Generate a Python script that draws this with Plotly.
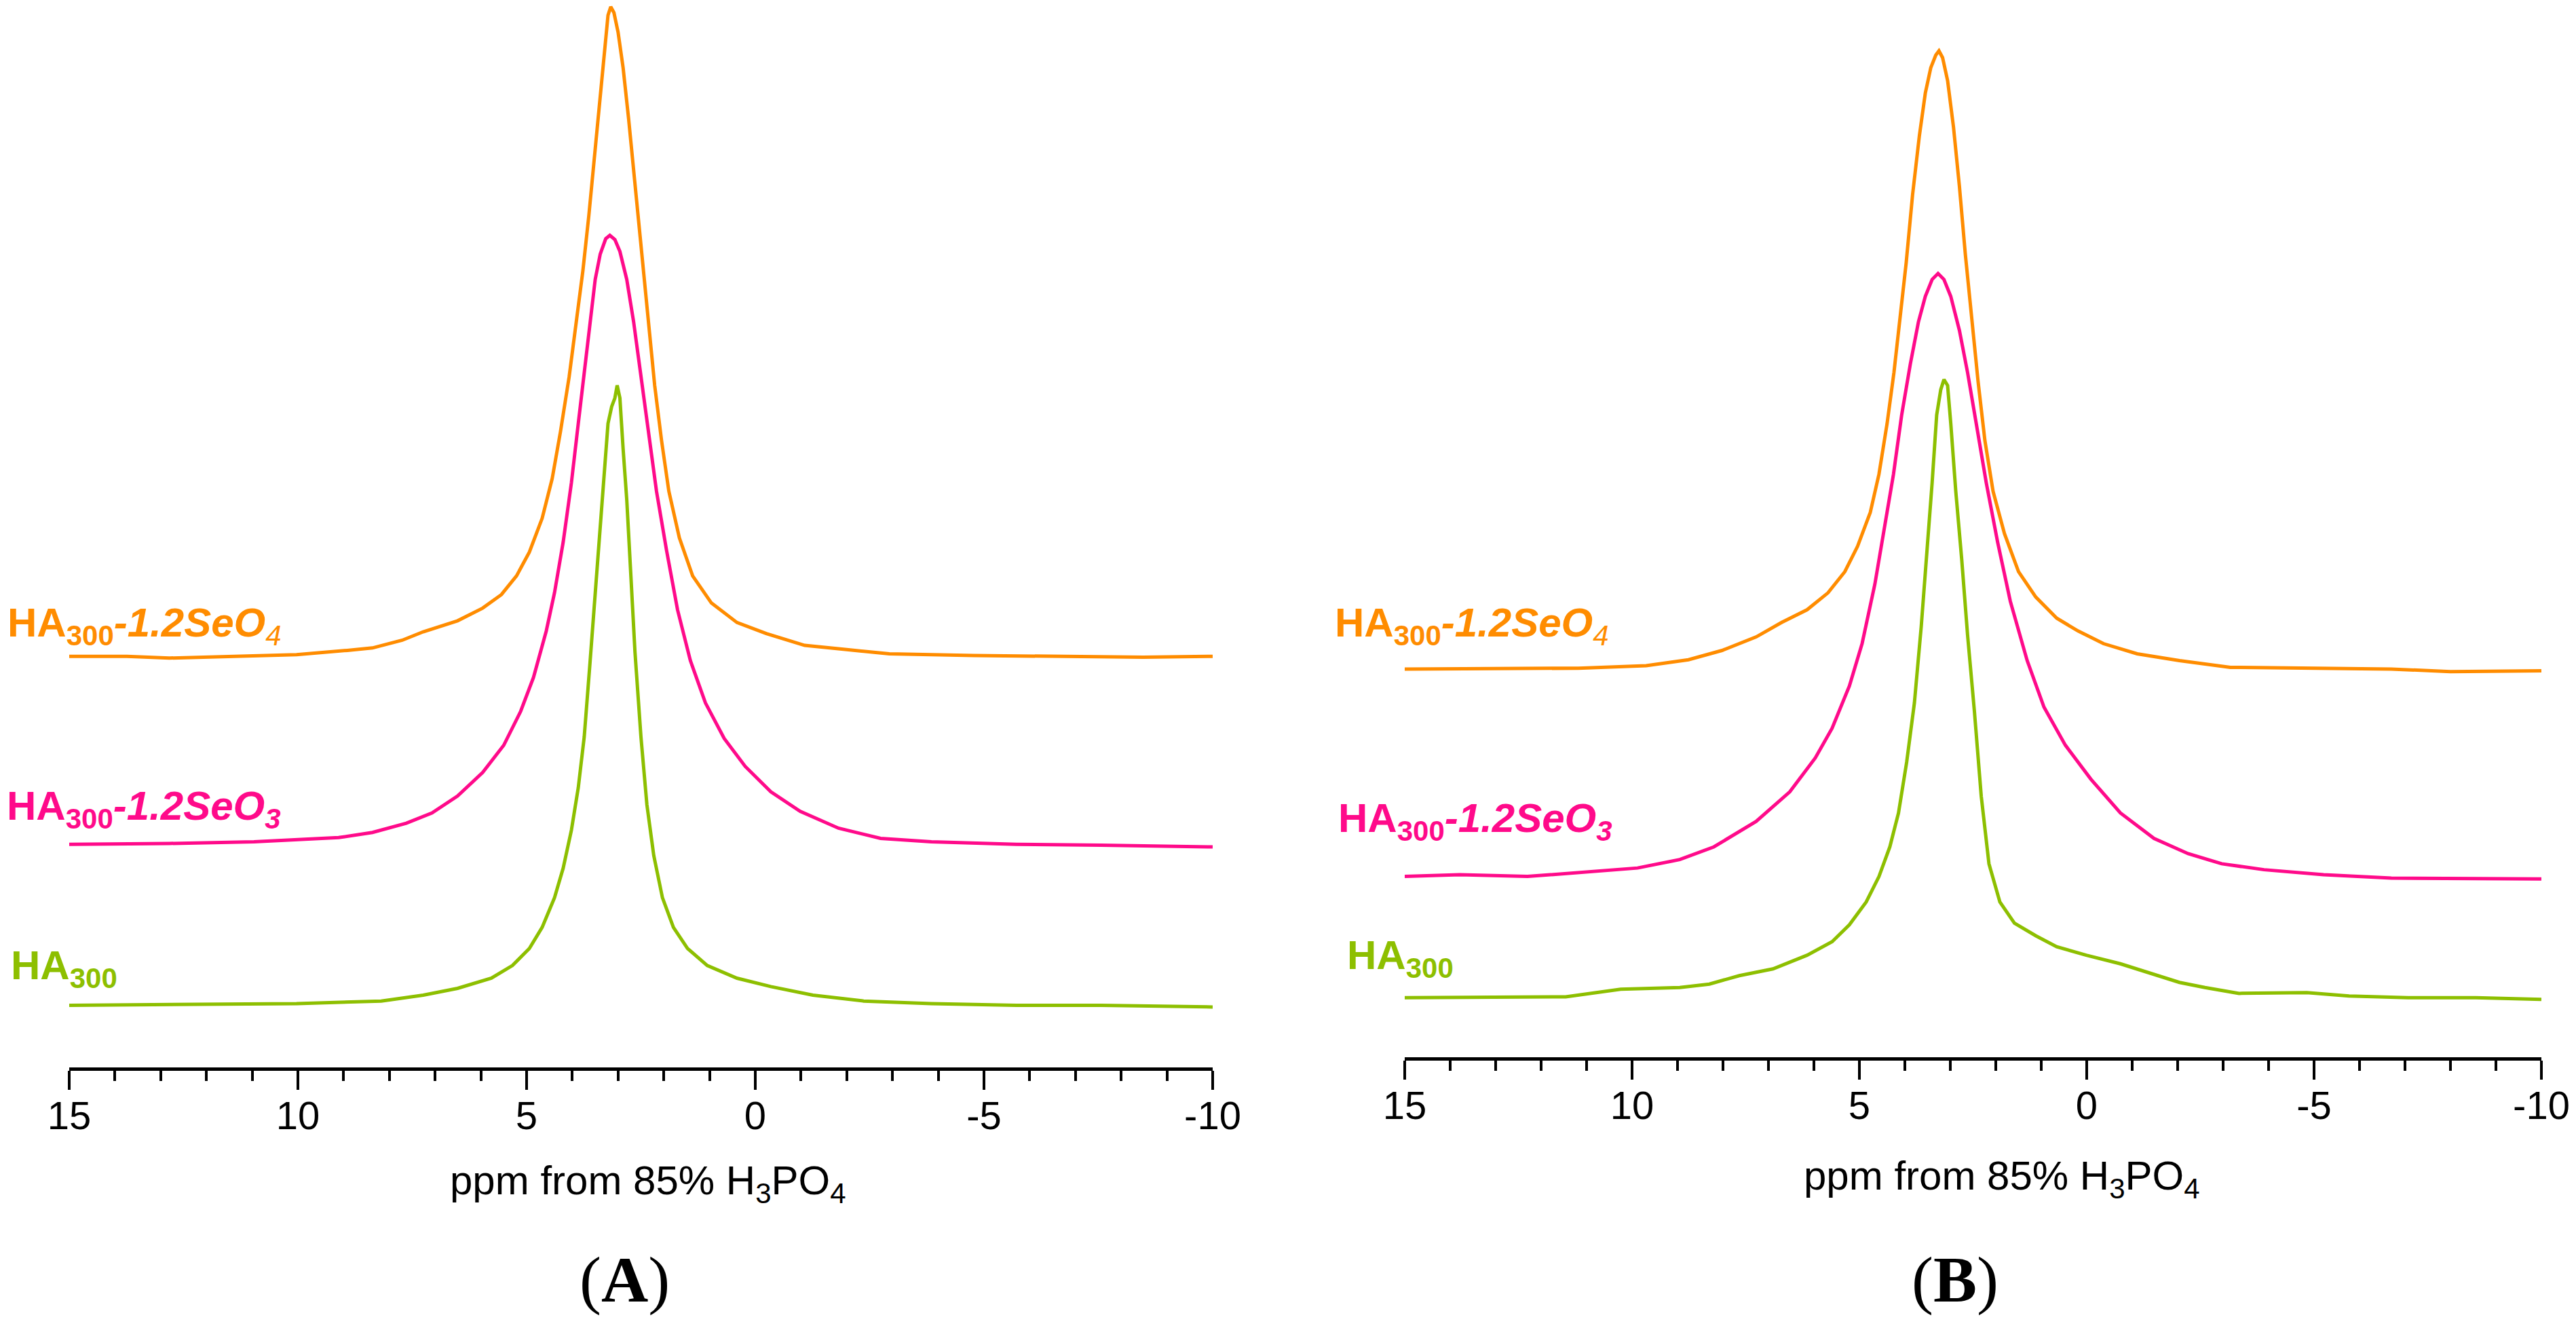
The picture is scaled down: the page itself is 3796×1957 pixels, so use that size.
import plotly.graph_objects as go

# ---- panel A : ppm / intensity ----
a_ha_ppm = [15.00, 12.81, 10.03, 8.18, 7.26, 6.51, 5.77, 5.31, 4.94, 4.66, 4.39, 4.20, 4.02, 3.87,
            3.74, 3.61, 3.50, 3.40, 3.31, 3.22, 3.14, 3.07, 3.02, 2.96, 2.89, 2.81, 2.72, 2.63,
            2.50, 2.37, 2.22, 2.03, 1.79, 1.48, 1.05, 0.40, -0.34, -1.26, -2.37, -3.85, -5.71,
            -7.56, -10.00]
a_ha_int = [0.00, 0.08, 0.16, 0.40, 0.95, 1.59, 2.54, 3.73, 5.32, 7.30, 10.08, 12.85, 16.42, 20.39,
            25.15, 32.29, 38.64, 44.19, 49.75, 54.51, 56.09, 56.89, 58.08, 56.89, 52.13, 47.37,
            40.23, 33.08, 25.15, 18.80, 14.04, 10.08, 7.30, 5.32, 3.73, 2.54, 1.75, 0.95, 0.40,
            0.16, 0.00, 0.00, -0.16]

a_se3_ppm = [15.00, 12.81, 10.96, 10.03, 9.11, 8.37, 7.63, 7.07, 6.51, 5.96, 5.50, 5.13, 4.85, 4.57,
             4.39, 4.20, 4.02, 3.87, 3.74, 3.61, 3.50, 3.39, 3.27, 3.18, 3.07, 2.96, 2.81, 2.66,
             2.51, 2.35, 2.16, 1.94, 1.70, 1.42, 1.09, 0.68, 0.22, -0.34, -0.98, -1.82, -2.74,
             -3.85, -5.71, -7.56, -10.00]
a_se3_int = [0.00, 0.08, 0.24, 0.40, 0.63, 1.11, 1.98, 2.94, 4.52, 6.74, 9.28, 12.46, 15.63, 19.99,
             23.56, 28.32, 33.88, 39.43, 44.19, 48.95, 52.92, 55.30, 56.73, 57.05, 56.65, 55.54,
             52.92, 48.95, 44.19, 38.64, 33.08, 27.53, 21.98, 17.22, 13.25, 9.92, 7.30, 4.92,
             3.09, 1.51, 0.56, 0.24, 0.00, -0.08, -0.24]

a_se4_ppm = [15.00, 13.74, 12.81, 11.33, 10.03, 8.92, 8.37, 7.72, 7.26, 6.51, 5.96, 5.55, 5.22, 4.94,
             4.66, 4.44, 4.26, 4.07, 3.92, 3.77, 3.64, 3.52, 3.39, 3.29, 3.22, 3.16, 3.09, 3.00,
             2.89, 2.77, 2.66, 2.55, 2.44, 2.33, 2.20, 2.05, 1.89, 1.66, 1.37, 0.96, 0.40, -0.24,
             -1.08, -2.00, -2.93, -4.78, -6.63, -8.48, -10.00]
a_se4_int = [0.00, 0.00, -0.16, 0.00, 0.16, 0.56, 0.79, 1.51, 2.30, 3.33, 4.52, 5.79, 7.54, 9.76,
             12.93, 16.66, 21.03, 26.18, 30.94, 36.10, 41.26, 46.81, 52.76, 57.52, 60.06, 60.85,
             60.30, 58.47, 55.14, 50.38, 45.62, 40.46, 35.31, 30.55, 25.39, 20.23, 15.47, 11.11,
             7.54, 5.00, 3.17, 2.14, 1.03, 0.63, 0.24, 0.08, 0.00, -0.08, 0.00]

# ---- panel B ----
b_ha_ppm = [15.00, 13.23, 11.46, 10.25, 8.95, 8.30, 7.64, 6.90, 6.15, 5.60, 5.22, 4.85, 4.57, 4.33,
            4.14, 3.96, 3.79, 3.64, 3.51, 3.40, 3.30, 3.21, 3.14, 3.06, 2.99, 2.88, 2.75, 2.62,
            2.47, 2.32, 2.15, 1.91, 1.59, 1.12, 0.66, 0.01, -0.74, -1.48, -2.04, -2.60, -3.35,
            -4.84, -5.77, -7.07, -8.56, -10.00]
b_ha_int = [0.00, 0.08, 0.08, 0.80, 0.96, 1.28, 2.08, 2.72, 4.01, 5.29, 6.89, 9.05, 11.45, 14.26,
            17.46, 22.27, 27.87, 35.08, 42.29, 48.70, 55.11, 57.51, 58.47, 57.91, 54.31, 47.90,
            41.49, 34.28, 27.07, 19.06, 12.66, 9.05, 7.05, 5.85, 4.81, 4.01, 3.20, 2.24, 1.44,
            0.96, 0.40, 0.48, 0.16, 0.00, 0.00, -0.16]

b_se3_ppm = [15.00, 13.79, 12.30, 11.00, 9.88, 8.95, 8.20, 7.27, 6.53, 5.97, 5.60, 5.22, 4.94, 4.66,
             4.44, 4.25, 4.07, 3.88, 3.70, 3.55, 3.40, 3.27, 3.14, 2.99, 2.80, 2.62, 2.43, 2.21,
             1.96, 1.68, 1.31, 0.94, 0.47, -0.09, -0.74, -1.48, -2.23, -2.97, -3.90, -5.21, -6.70,
             -8.38, -10.00]
b_se3_int = [0.00, 0.16, 0.00, 0.40, 0.80, 1.60, 2.80, 5.21, 8.01, 11.21, 14.02, 18.02, 22.03, 27.63,
             33.24, 38.05, 43.65, 48.46, 52.47, 54.87, 56.47, 57.03, 56.47, 54.87, 51.66, 47.66,
             42.85, 37.25, 31.64, 26.03, 20.43, 16.02, 12.42, 9.21, 6.01, 3.60, 2.16, 1.20, 0.64,
             0.16, -0.16, -0.16, -0.24]

b_se4_ppm = [15.00, 12.86, 11.18, 9.69, 8.76, 8.02, 7.27, 6.71, 6.15, 5.69, 5.32, 5.04, 4.76, 4.57,
             4.39, 4.24, 4.11, 3.97, 3.83, 3.68, 3.55, 3.43, 3.32, 3.25, 3.17, 3.06, 2.93, 2.80,
             2.67, 2.52, 2.39, 2.24, 2.06, 1.81, 1.50, 1.12, 0.66, 0.19, -0.37, -1.11, -2.04,
             -3.16, -4.84, -6.70, -8.00, -10.00]
b_se4_int = [0.00, 0.00, 0.08, 0.32, 0.88, 1.76, 3.04, 4.41, 5.61, 7.21, 9.21, 11.61, 14.82, 18.42,
             23.23, 28.04, 32.84, 38.45, 44.86, 50.46, 54.47, 56.87, 58.07, 58.47, 57.83, 55.67,
             51.26, 45.66, 39.25, 32.84, 27.23, 21.63, 16.82, 12.82, 9.21, 6.81, 4.81, 3.60, 2.40,
             1.44, 0.80, 0.16, 0.08, 0.00, -0.24, -0.16]

# stacking offsets (HA300, SeO3, SeO4)
a_offsets = [5.82, 20.90, 38.51]
b_offsets = [5.64, 17.10, 36.72]

colors = ["#8DBF00", "#FF0A8A", "#FF8C00"]
label_names = [
    "<b>HA</b><sub><b>300</b></sub>",
    "<b>HA</b><sub><b>300</b></sub><b><i>-1.2SeO</i></b><sub><b><i>3</i></b></sub>",
    "<b>HA</b><sub><b>300</b></sub><b><i>-1.2SeO</i></b><sub><i>4</i></sub>",
]
tick_vals = [15, 10, 5, 0, -5, -10]
tick_text = ["15", "10", "5", "0", "-5", "-10"]

fig = go.Figure()

panel_a = [(a_ha_ppm, a_ha_int), (a_se3_ppm, a_se3_int), (a_se4_ppm, a_se4_int)]
panel_b = [(b_ha_ppm, b_ha_int), (b_se3_ppm, b_se3_int), (b_se4_ppm, b_se4_int)]

for k, (xs, ys) in enumerate(panel_a):
    fig.add_trace(go.Scatter(x=xs, y=[v + a_offsets[k] for v in ys], mode="lines",
                             line=dict(color=colors[k], width=5), xaxis="x", yaxis="y",
                             showlegend=False))
for k, (xs, ys) in enumerate(panel_b):
    fig.add_trace(go.Scatter(x=xs, y=[v + b_offsets[k] for v in ys], mode="lines",
                             line=dict(color=colors[k], width=5), xaxis="x2", yaxis="y2",
                             showlegend=False))

xax = dict(range=[15, -10], showgrid=False, zeroline=False, showline=True, linewidth=5,
           linecolor="black", ticks="outside", ticklen=28, tickwidth=4, tickcolor="black",
           tickmode="array", tickvals=tick_vals, ticktext=tick_text, automargin=False,
           ticklabelstandoff=-12, ticklabeloverflow="allow",
           tickfont=dict(family="Liberation Sans, Arial", size=58, color="black"),
           minor=dict(tickvals=list(range(-10, 16)), ticks="outside", ticklen=15, tickwidth=4,
                      tickcolor="black"))

# page body keeps an 8px margin, so the figure is a little smaller than the window
fig.update_layout(
    width=3780, height=1941,
    margin=dict(l=0, r=0, t=0, b=0),
    paper_bgcolor="white", plot_bgcolor="white",
    xaxis=dict(domain=[0.02487, 0.47063], anchor="y", **xax),
    yaxis=dict(domain=[0.19371, 1.0], range=[0, 99.49], visible=False),
    xaxis2=dict(domain=[0.54550, 0.98862], anchor="y2", **xax),
    yaxis2=dict(domain=[0.20144, 1.0], range=[0, 99.49], visible=False),
)

lab_font = dict(family="Liberation Sans, Arial", size=60)
label_pos = [
    (0.0016, 0.2689), (0.0, 0.3900), (0.00026, 0.5291),
    (0.52249, 0.2767), (0.51905, 0.3807), (0.51772, 0.5291),
]
for i, (lx, ly) in enumerate(label_pos):
    k = i % 3
    fig.add_annotation(x=lx, y=ly, xref="paper", yref="paper", xanchor="left", yanchor="middle",
                       text=label_names[k], showarrow=False,
                       font=dict(color=colors[k], **lab_font))

axis_title = "ppm from 85% H<sub>3</sub>PO<sub>4</sub>"
for tx, ty in [(0.2505, 0.1056), (0.7783, 0.1092)]:
    fig.add_annotation(x=tx, y=ty, xref="paper", yref="paper", xanchor="center", yanchor="middle",
                       text=axis_title, showarrow=False,
                       font=dict(family="Liberation Sans, Arial", size=60, color="black"))

for tx, txt in [(0.2413, "(<b>A</b>)"), (0.7601, "(<b>B</b>)")]:
    fig.add_annotation(x=tx, y=0.0325, xref="paper", yref="paper", xanchor="center",
                       yanchor="middle", text=txt, showarrow=False,
                       font=dict(family="Liberation Serif, Times New Roman", size=96, color="black"))

fig.write_html("out.html")
